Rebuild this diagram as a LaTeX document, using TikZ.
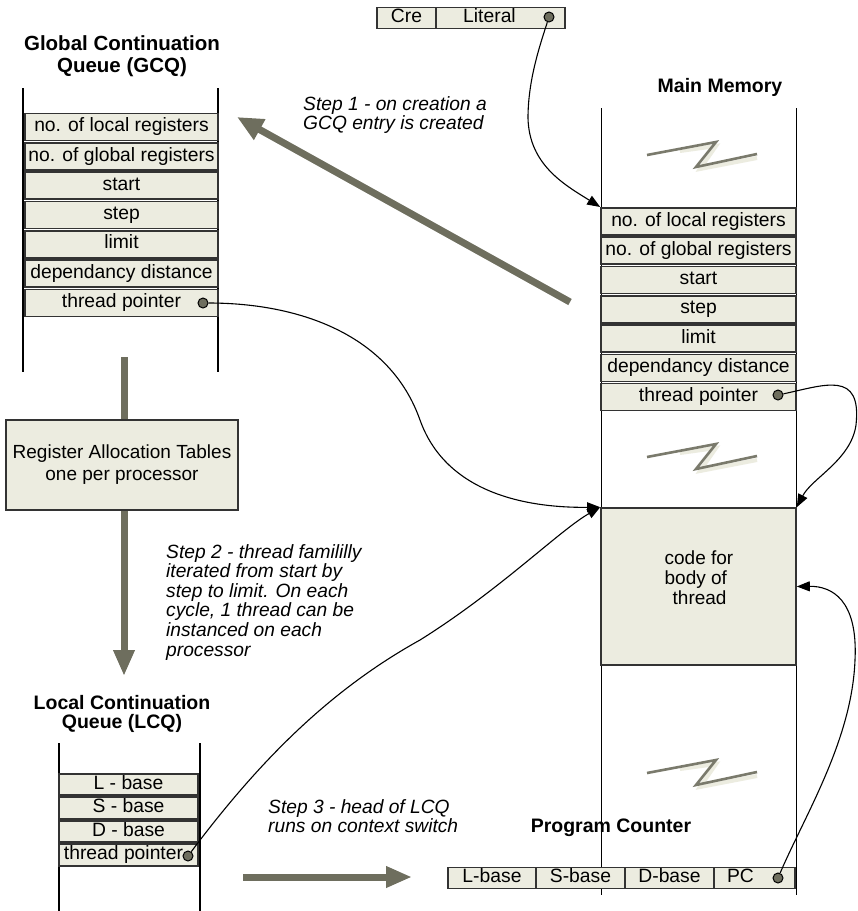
\documentclass[tikz,border=0pt]{standalone}
\usepackage{fontspec}
\setmainfont{Liberation Sans}
\usetikzlibrary{arrows.meta}
\definecolor{cellfill}{RGB}{236,236,224}
\definecolor{biggray}{RGB}{110,110,94}
\definecolor{zzgray}{RGB}{122,122,108}
\begin{document}
\begin{tikzpicture}[x=1pt,y=-1pt,
  txt/.style={font=\fontsize{19}{20}\selectfont, inner sep=0pt},
  ttl/.style={font=\fontsize{19.5}{21}\selectfont\bfseries, align=center, inner sep=0pt},
  stp/.style={font=\fontsize{19.2}{19.6}\selectfont\itshape, align=left, inner sep=0pt, anchor=north west},
  cellbox/.style={draw=black!80, line width=1.6pt, fill=cellfill, inner sep=0pt,
     font=\fontsize{19.3}{20}\selectfont, text height=13.5pt, text depth=4pt},
  gcell/.style={cellbox, minimum width=193pt, minimum height=27pt},
  mcell/.style={cellbox, minimum width=195pt, minimum height=27pt},
  lcell/.style={cellbox, minimum width=139pt, minimum height=21.5pt},
  pcell/.style={cellbox, minimum height=21pt},
  vline/.style={draw=black, line width=1.1pt},
  dotmark/.style={circle, draw=black, line width=1pt, fill=biggray, minimum size=10pt, inner sep=0pt},
  conn/.style={draw=black, line width=1.1pt, -{Triangle[length=13pt,width=10pt]}},
  bigline/.style={draw=biggray, line width=7pt},
  bigarr/.style={bigline, -{Triangle[length=26pt,width=22pt]}},
  zz/.style={draw=zzgray, line width=2.6pt, line join=miter},
  zzshade/.style={draw=cellfill, line width=4pt}
]
\fill[white] (0,0) rectangle (858,911);
\useasboundingbox (0,0) rectangle (858,911);

% ---------- Cre / Literal ----------
\node[pcell, minimum width=59pt] (cre) at (406.5,18) {Cre};
\node[pcell, minimum width=129pt] (lit) at (500.5,18) {Literal\hspace*{22pt}};
\node[dotmark] (litdot) at (549,17) {};

% ---------- GCQ ----------
\node[ttl, font=\fontsize{20.5}{22}\selectfont\bfseries] (gcqtitle) at (122,56) {Global Continuation\\Queue (GCQ)};
\draw[vline] (23,88) -- (23,372);
\draw[vline] (218,88) -- (218,372);
\node[gcell] (g1) at (121.5,127.0) {no. of local registers};
\node[gcell] (g2) at (121.5,156.3) {no. of global registers};
\node[gcell] (g3) at (121.5,185.6) {start};
\node[gcell] (g4) at (121.5,214.9) {step};
\node[gcell] (g5) at (121.5,244.2) {limit};
\node[gcell] (g6) at (121.5,273.5) {dependancy distance};
\node[gcell] (g7) at (121.5,302.8) {thread pointer};
\node[dotmark] (gdot) at (203,303) {};

% ---------- Main memory ----------
\node[ttl] (mmtitle) at (720,87) {Main Memory};
\draw[vline] (601.5,108) -- (601.5,895);
\draw[vline] (796.5,108) -- (796.5,895);
\foreach \dy in {0,302,618}{
  \draw[zzshade] (680,{151+\dy}) -- (716,{146+\dy}) -- (700,{169+\dy}) -- (757,{158+\dy});
  \draw[zz] (647,{155+\dy}) -- (716,{142+\dy}) -- (696,{167+\dy}) -- (757,{154+\dy});
}
\node[mcell] (m1) at (698.5,221.3) {no. of local registers};
\node[mcell] (m2) at (698.5,250.6) {no. of global registers};
\node[mcell] (m3) at (698.5,279.9) {start};
\node[mcell] (m4) at (698.5,309.2) {step};
\node[mcell] (m5) at (698.5,338.5) {limit};
\node[mcell] (m6) at (698.5,367.8) {dependancy distance};
\node[mcell] (m7) at (698.5,397.1) {thread pointer};
\node[dotmark] (mdot) at (778,395) {};
\node[cellbox, minimum width=195pt, minimum height=157pt] (code) at (698.5,586.5) {};
\node[txt, align=left] (codetxt) at (699,578) {code for\\body of\\\hspace*{8pt}thread};

% ---------- Step 1 ----------
\node[stp] (step1) at (303,96) {Step 1 - on creation a\\GCQ entry is created};
\coordinate (s1tail) at (570,302);
\coordinate (s1head) at (237,117);
\draw[bigarr] (s1tail) -- (s1head);

% ---------- Register allocation ----------
\node[cellbox, minimum width=232pt, minimum height=90pt, align=center, text height=, text depth=,
      font=\fontsize{19}{22}\selectfont] (reg) at (122,465) {Register Allocation Tables\\one per processor};
\coordinate (vtop) at (124,357);
\coordinate (vbot) at (124,676);
\draw[bigline] (vtop) -- (vtop |- reg.north);
\draw[bigline, -{Triangle[length=26pt,width=20pt]}] (vtop |- reg.south) -- (vbot);

% ---------- Step 2 ----------
\node[stp] (step2) at (166,544) {Step 2 - thread famililly\\iterated from start by\\step to limit. On each\\cycle, 1 thread can be\\instanced on each\\processor};

% ---------- LCQ ----------
\node[ttl, font=\fontsize{19.5}{19.5}\selectfont\bfseries] (lcqtitle) at (122,714) {Local Continuation\\Queue (LCQ)};
\draw[vline] (59,743) -- (59,911);
\draw[vline] (200,743) -- (200,911);
\node[lcell] (l1) at (128.5,784.5) {L - base};
\node[lcell] (l2) at (128.5,808.0) {S - base};
\node[lcell] (l3) at (128.5,831.5) {D - base};
\node[lcell] (l4) at (128.5,855.0) {thread pointer\hspace*{10pt}};
\node[dotmark] (ldot) at (188,856) {};

% ---------- Step 3 ----------
\node[stp] (step3) at (268,799) {Step 3 - head of LCQ\\runs on context switch};
\coordinate (s3tail) at (243,877);
\coordinate (s3head) at (412,877);
\draw[bigline, -{Triangle[length=26pt,width=20pt]}] (s3tail) -- (s3head);

% ---------- Program counter ----------
\node[ttl] (pctitle) at (611,828) {Program Counter};
\node[pcell, minimum width=88pt] (pl) at (492,878) {L-base};
\node[pcell, minimum width=89pt] (ps) at (580.5,878) {S-base};
\node[pcell, minimum width=89pt] (pd) at (669.5,878) {D-base};
\node[pcell, minimum width=81pt] (pp) at (754.5,878) {PC\hspace*{28pt}};
\node[dotmark] (pdot) at (778,878) {};

% ---------- connectors ----------
\draw[conn] (litdot) .. controls (540,45) and (528,80) .. (528,118)
   .. controls (529,165) and (565,185) .. (m1.north west);
\draw[conn] (gdot) .. controls (300,303) and (390,335) .. (420,420)
   .. controls (445,490) and (520,508) .. (code.north west);
\draw[conn] (mdot) .. controls (825,385) and (862,370) .. (856,425)
   .. controls (851,460) and (812,478) .. (code.north east);
\draw[conn] (ldot) .. controls (260,760) and (330,690) .. (420,640)
   .. controls (500,590) and (560,530) .. (code.north west);
\draw[conn] (pdot) .. controls (805,815) and (852,740) .. (855,660)
   .. controls (858,600) and (832,586) .. (code.east);
\end{tikzpicture}
\end{document}
